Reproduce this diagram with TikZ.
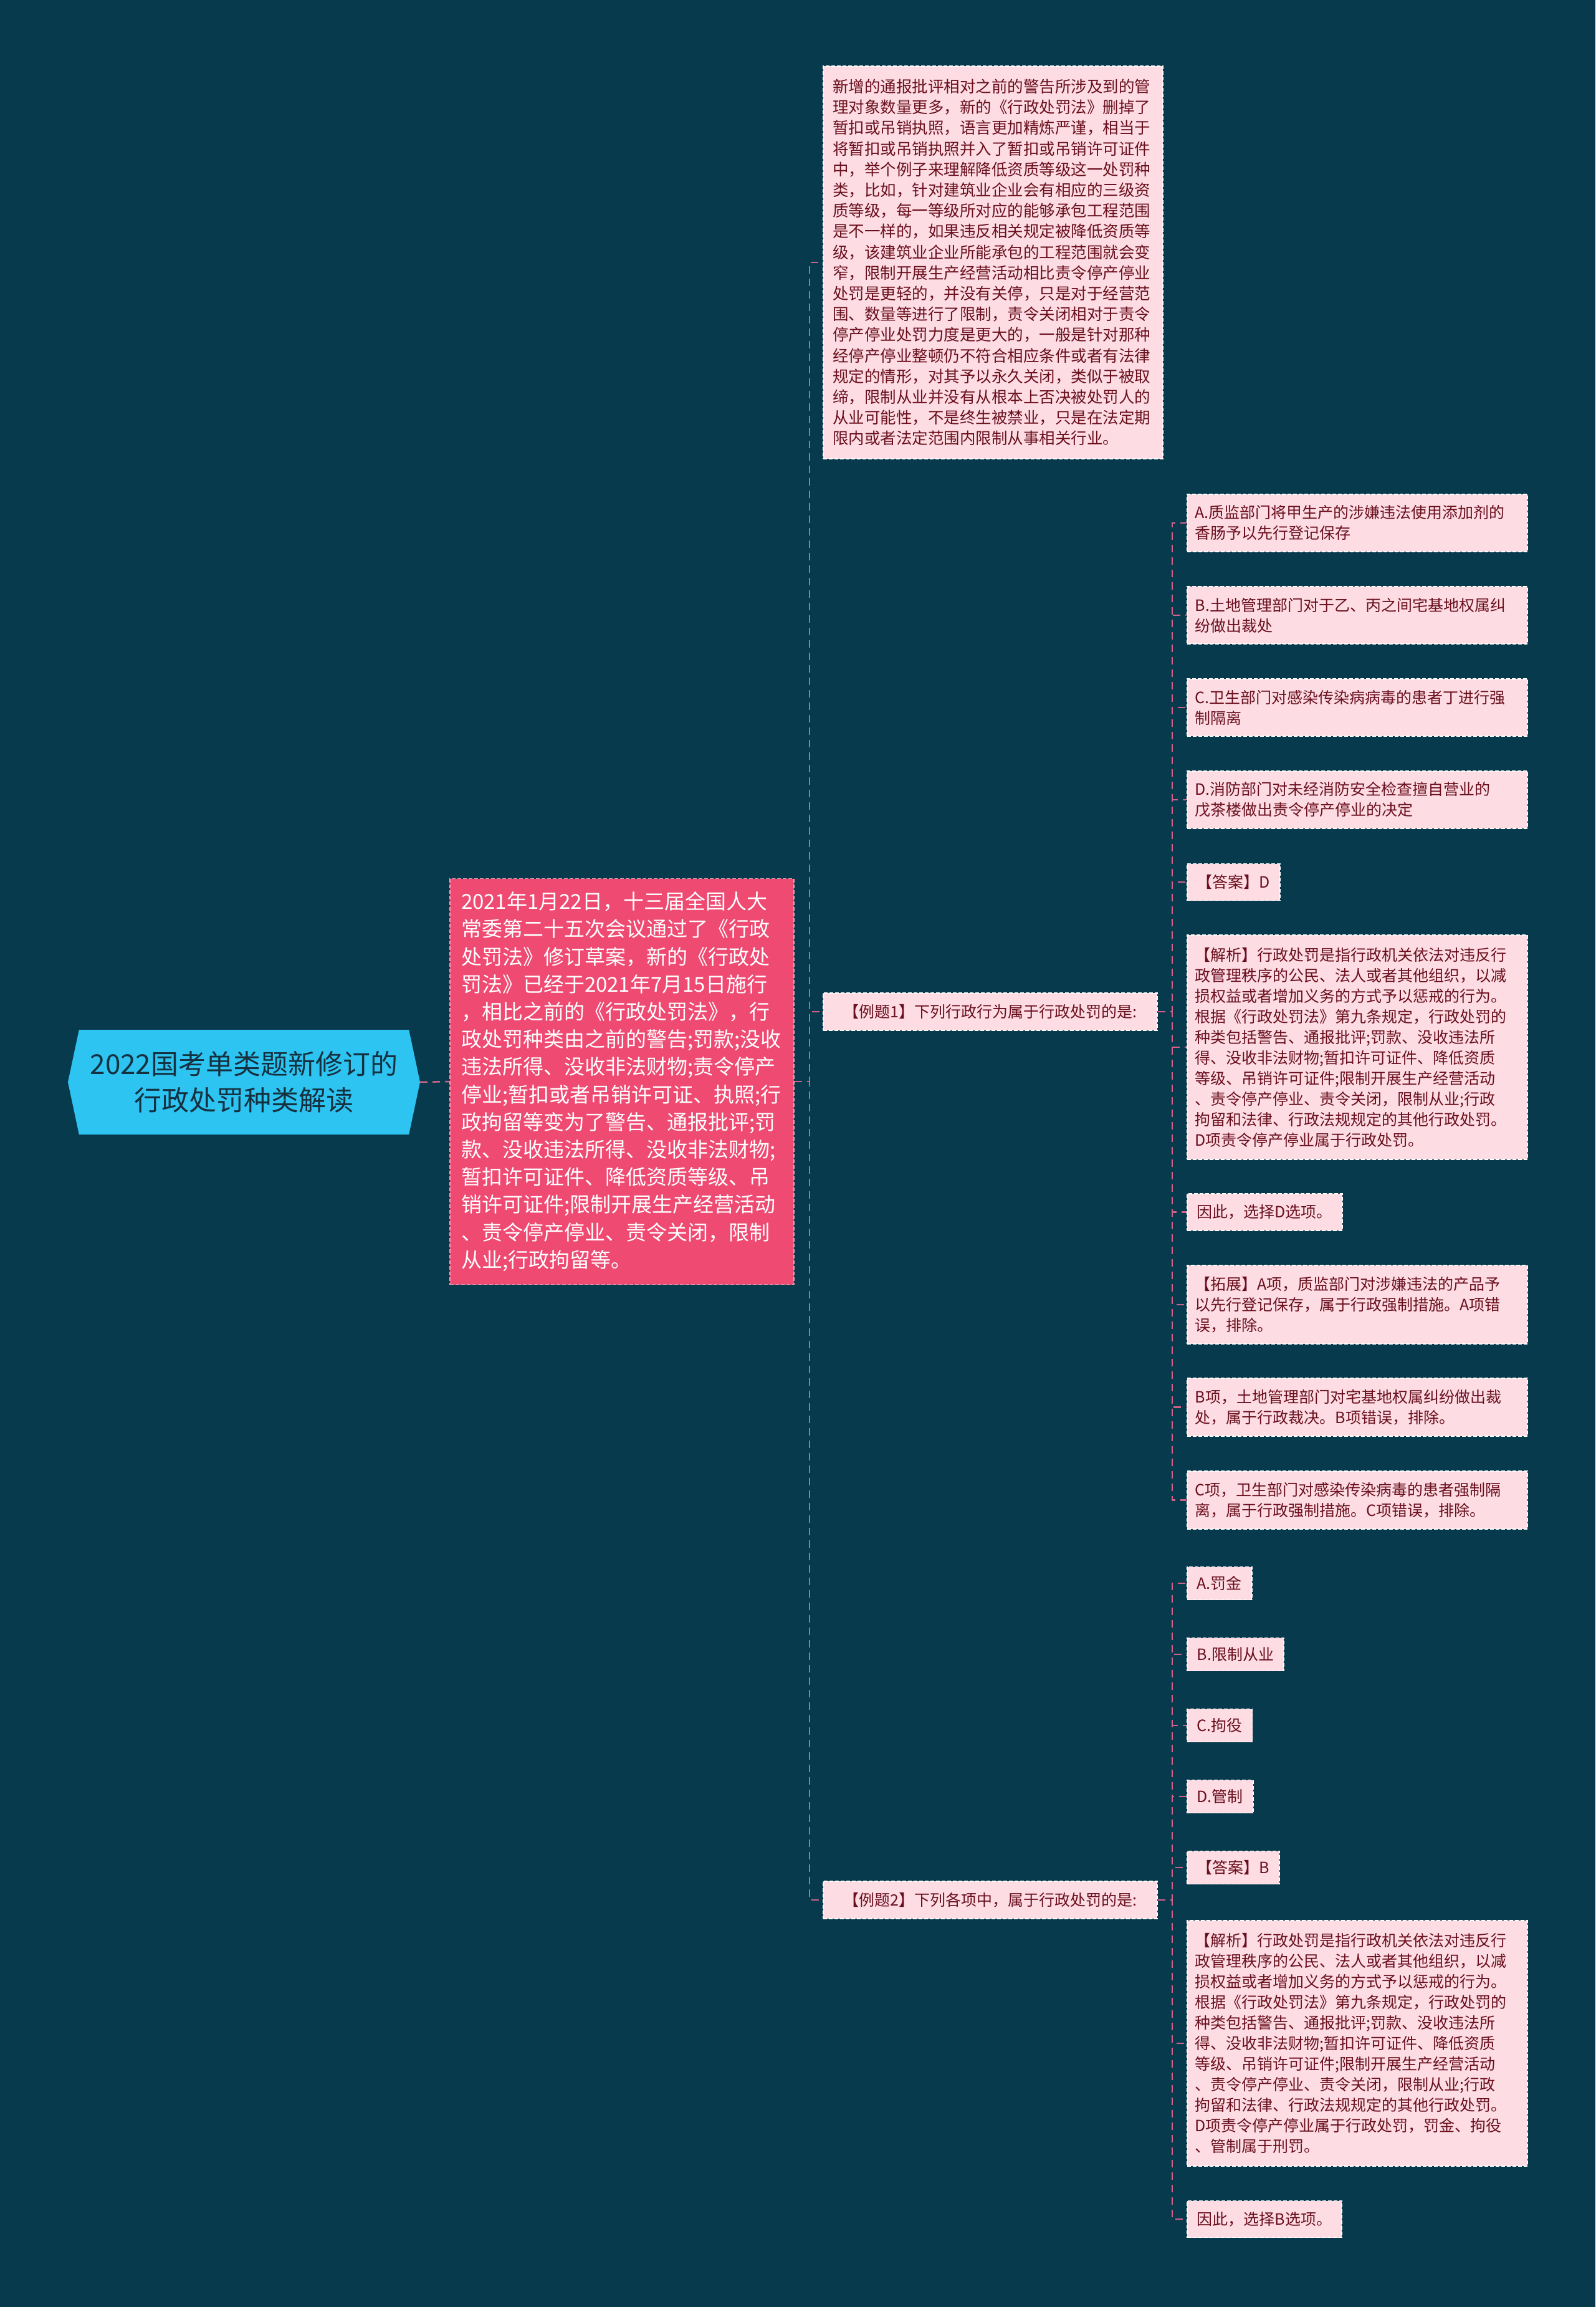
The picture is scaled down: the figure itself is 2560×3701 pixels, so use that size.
\documentclass[tikz,border=0pt]{standalone}
\usepackage{fontspec}
\setmainfont{Noto Sans CJK SC}
\usetikzlibrary{shapes.symbols}
\definecolor{bg}{HTML}{083A4E}
\definecolor{rootfill}{HTML}{2EC4F2}
\definecolor{roottext}{HTML}{15303F}
\definecolor{redfill}{HTML}{EF4A72}
\definecolor{redline}{HTML}{F7A3B6}
\definecolor{childfill}{HTML}{FDDDE3}
\definecolor{childtext}{HTML}{6A0F1E}
\definecolor{linkc}{HTML}{D2628A}
\begin{document}
\begin{tikzpicture}[x=1pt,y=-1pt,
 link/.style={draw=linkc, line width=2.5pt, dash pattern=on 12pt off 8pt},
 rootbox/.style={signal, signal to=west and east, signal pointer angle=156, fill=rootfill, text=roottext, minimum width=565pt, minimum height=168pt, font=\fontsize{44}{58}\selectfont, align=center, inner sep=0pt},
 redbox/.style={fill=redfill, draw=redline, line width=1.5pt, dash pattern=on 6pt off 3pt, text=white, font=\fontsize{33}{44.2}\selectfont, align=left, text width=516pt, inner xsep=18pt, inner ysep=0pt, minimum height=651pt},
 cbox/.style={fill=childfill, draw=white, line width=1.5pt, dash pattern=on 6pt off 3pt, text=childtext, font=\fontsize{25}{33}\selectfont, align=left, inner xsep=16pt, inner ysep=0pt, anchor=west},
 wide/.style={text width=520pt, inner xsep=13pt},
]
\fill[bg] (0,0) rectangle (2560,3701);
\useasboundingbox (0,0) rectangle (2560,3701);

\node[rootbox] (root) at (391.5,1736) {2022国考单类题新修订的\\行政处罚种类解读};

\node[redbox] (intro) at (998,1735) {2021年1月22日，十三届全国人大\\常委第二十五次会议通过了《行政\\处罚法》修订草案，新的《行政处\\罚法》已经于2021年7月15日施行\\，相比之前的《行政处罚法》，行\\政处罚种类由之前的警告;罚款;没收\\违法所得、没收非法财物;责令停产\\停业;暂扣或者吊销许可证、执照;行\\政拘留等变为了警告、通报批评;罚\\款、没收违法所得、没收非法财物;\\暂扣许可证件、降低资质等级、吊\\销许可证件;限制开展生产经营活动\\、责令停产停业、责令关闭，限制\\从业;行政拘留等。};

\node[cbox, anchor=center, text width=515pt, inner xsep=15pt, minimum height=630pt, font=\fontsize{25.5}{33.2}\selectfont] (note) at (1593.5,421) {新增的通报批评相对之前的警告所涉及到的管\\理对象数量更多，新的《行政处罚法》删掉了\\暂扣或吊销执照，语言更加精炼严谨，相当于\\将暂扣或吊销执照并入了暂扣或吊销许可证件\\中，举个例子来理解降低资质等级这一处罚种\\类，比如，针对建筑业企业会有相应的三级资\\质等级，每一等级所对应的能够承包工程范围\\是不一样的，如果违反相关规定被降低资质等\\级，该建筑业企业所能承包的工程范围就会变\\窄，限制开展生产经营活动相比责令停产停业\\处罚是更轻的，并没有关停，只是对于经营范\\围、数量等进行了限制，责令关闭相对于责令\\停产停业处罚力度是更大的，一般是针对那种\\经停产停业整顿仍不符合相应条件或者有法律\\规定的情形，对其予以永久关闭，类似于被取\\缔，限制从业并没有从根本上否决被处罚人的\\从业可能性，不是终生被禁业，只是在法定期\\限内或者法定范围内限制从事相关行业。};

\node[cbox, anchor=center, align=center, minimum width=536pt, minimum height=60pt] (ex1) at (1589,1623) {【例题1】下列行政行为属于行政处罚的是:};
\node[cbox, anchor=center, align=center, minimum width=536pt, minimum height=60pt] (ex2) at (1589,3048) {【例题2】下列各项中，属于行政处罚的是:};

% example 1 children
\node[cbox, wide, minimum height=92pt] (a1) at (1904,839) {A.质监部门将甲生产的涉嫌违法使用添加剂的\\香肠予以先行登记保存};
\node[cbox, wide, minimum height=92pt] (b1) at (1904,987) {B.土地管理部门对于乙、丙之间宅基地权属纠\\纷做出裁处};
\node[cbox, wide, minimum height=92pt] (c1) at (1904,1135) {C.卫生部门对感染传染病病毒的患者丁进行强\\制隔离};
\node[cbox, wide, minimum height=92pt] (d1) at (1904,1283) {D.消防部门对未经消防安全检查擅自营业的\\戊茶楼做出责令停产停业的决定};
\node[cbox, minimum height=59pt] (ans1) at (1904,1415) {【答案】D};
\node[cbox, wide, minimum height=360pt] (jx1) at (1904,1680) {【解析】行政处罚是指行政机关依法对违反行\\政管理秩序的公民、法人或者其他组织，以减\\损权益或者增加义务的方式予以惩戒的行为。\\根据《行政处罚法》第九条规定，行政处罚的\\种类包括警告、通报批评;罚款、没收违法所\\得、没收非法财物;暂扣许可证件、降低资质\\等级、吊销许可证件;限制开展生产经营活动\\、责令停产停业、责令关闭，限制从业;行政\\拘留和法律、行政法规规定的其他行政处罚。\\D项责令停产停业属于行政处罚。};
\node[cbox, minimum height=59pt] (so1) at (1904,1944.5) {因此，选择D选项。};
\node[cbox, wide, minimum height=126pt] (tz1) at (1904,2093) {【拓展】A项，质监部门对涉嫌违法的产品予\\以先行登记保存，属于行政强制措施。A项错\\误，排除。};
\node[cbox, wide, minimum height=93pt] (bx1) at (1904,2257.5) {B项，土地管理部门对宅基地权属纠纷做出裁\\处，属于行政裁决。B项错误，排除。};
\node[cbox, wide, minimum height=93pt] (cx1) at (1904,2406.5) {C项，卫生部门对感染传染病毒的患者强制隔\\离，属于行政强制措施。C项错误，排除。};

% example 2 children
\node[cbox, minimum height=53pt] (a2) at (1904,2540) {A.罚金};
\node[cbox, minimum height=53pt] (b2) at (1904,2654) {B.限制从业};
\node[cbox, minimum height=53pt] (c2) at (1904,2768) {C.拘役};
\node[cbox, minimum height=53pt] (d2) at (1904,2882) {D.管制};
\node[cbox, minimum height=53pt] (ans2) at (1904,2996) {【答案】B};
\node[cbox, wide, minimum height=394pt] (jx2) at (1904,3278) {【解析】行政处罚是指行政机关依法对违反行\\政管理秩序的公民、法人或者其他组织，以减\\损权益或者增加义务的方式予以惩戒的行为。\\根据《行政处罚法》第九条规定，行政处罚的\\种类包括警告、通报批评;罚款、没收违法所\\得、没收非法财物;暂扣许可证件、降低资质\\等级、吊销许可证件;限制开展生产经营活动\\、责令停产停业、责令关闭，限制从业;行政\\拘留和法律、行政法规规定的其他行政处罚。\\D项责令停产停业属于行政处罚，罚金、拘役\\、管制属于刑罚。};
\node[cbox, minimum height=59pt] (so2) at (1904,3560) {因此，选择B选项。};

% connectors
\draw[link] (root.east) -- (intro.west);
\foreach \c in {note,ex1,ex2} \draw[link] (intro.east) -- ++(24,0) |- (\c.west);
\foreach \c in {a1,b1,c1,d1,ans1,jx1,so1,tz1,bx1,cx1} \draw[link] (ex1.east) -- ++(23,0) |- (\c.west);
\foreach \c in {a2,b2,c2,d2,ans2,jx2,so2} \draw[link] (ex2.east) -- ++(23,0) |- (\c.west);
\end{tikzpicture}
\end{document}
